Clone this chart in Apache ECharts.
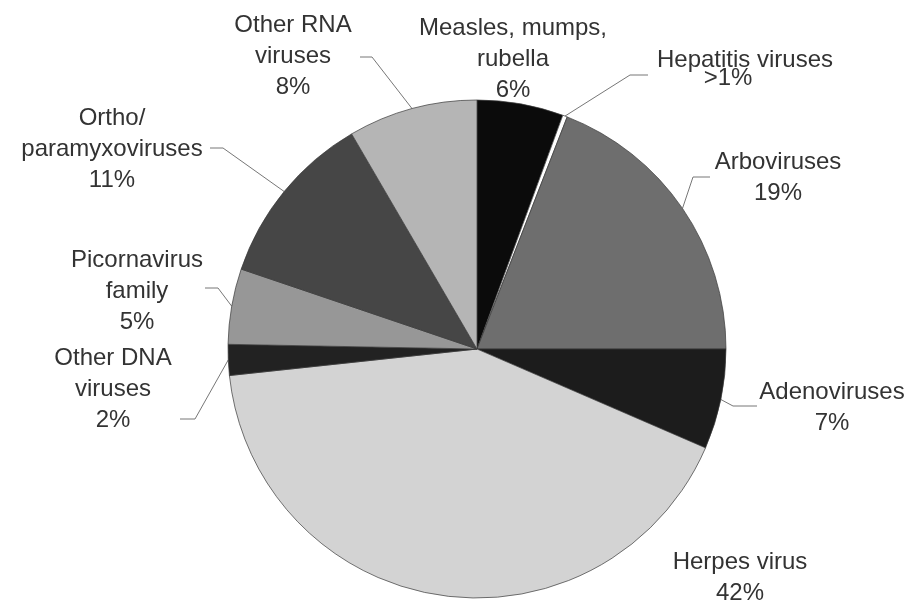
<!DOCTYPE html>
<html>
<head>
<meta charset="utf-8">
<script src="https://cdn.jsdelivr.net/npm/echarts@6/dist/echarts.min.js"></script>
<style>
html,body{margin:0;padding:0;background:#fff;}
#c{width:912px;height:601px;}
</style>
</head>
<body>
<div id="c"></div>
<script>
// ---- data ----
var categories = ["Measles, mumps,\nrubella", "Hepatitis viruses", "Arboviruses", "Adenoviruses", "Herpes virus", "Other DNA\nviruses", "Picornavirus\nfamily", "Ortho/\nparamyxoviruses", "Other RNA\nviruses"];
var values = [5.6, 0.3, 19.1, 6.5, 41.8, 2.0, 4.9, 11.4, 8.4];
var percentLabels = ["6%", ">1%", "19%", "7%", "42%", "2%", "5%", "11%", "8%"];

// ---- style ----
var colors = ["#0b0b0b", "#ffffff", "#6e6e6e", "#1c1c1c", "#d3d3d3", "#222222", "#979797", "#464646", "#b5b5b5"];
var lineH = 31;
var fs = 24;
// label anchor: [centerX, firstLineCenterY], leader bend & end points (null = no line)
var labelAnchors = [[513, 28], [745, 60], [778, 162], [832, 392], [740, 562], [113, 358], [137, 260], [112, 118], [293, 25]];
var lineBends = [null, [[630, 75], [648, 75]], [[693, 177], [710, 177]], [[733, 406], [757, 406]], null, [[195, 419], [180, 419]], [[218, 288], [205, 288]], [[223, 148], [210, 148]], [[372, 57], [360, 57]]];

var chart = echarts.init(document.getElementById('c'), null, {renderer: 'canvas'});
var data = categories.map(function (n, i) {
  var item = {name: n, value: values[i], itemStyle: {color: colors[i]}};
  if (!lineBends[i]) item.labelLine = {show: false};
  if (i === 1) {
    item.label = {
      formatter: '{a|Hepatitis viruses}\n{b|>1%}',
      rich: {
        a: {fontSize: fs, lineHeight: 18, color: '#333', fontFamily: 'Liberation Sans'},
        b: {fontSize: fs, lineHeight: 18, color: '#333', fontFamily: 'Liberation Sans', padding: [0, 34, 0, 0]}
      }
    };
  }
  return item;
});

chart.setOption({
  backgroundColor: '#ffffff',
  animation: false,
  series: [{
    type: 'pie',
    center: [477, 349],
    radius: [0, 249],
    startAngle: 90,
    clockwise: true,
    avoidLabelOverlap: false,
    data: data,
    itemStyle: {borderColor: '#3a3a3a', borderWidth: 0.7},
    label: {
      show: true,
      position: 'outside',
      fontFamily: 'Liberation Sans',
      fontSize: fs,
      lineHeight: lineH,
      color: '#333',
      align: 'center',
      formatter: function (p) { return p.name + '\n' + percentLabels[p.dataIndex]; }
    },
    labelLine: {show: true, lineStyle: {color: '#777', width: 1}},
    labelLayout: function (params) {
      var i = params.dataIndex;
      var a = labelAnchors[i];
      var res = {x: a[0], y: a[1] - (i === 1 ? 9 : lineH / 2), align: 'center', verticalAlign: 'top'};
      if (lineBends[i] && params.labelLinePoints) {
        res.labelLinePoints = [params.labelLinePoints[0], lineBends[i][0], lineBends[i][1]];
      }
      return res;
    }
  }]
});
</script>
</body>
</html>
